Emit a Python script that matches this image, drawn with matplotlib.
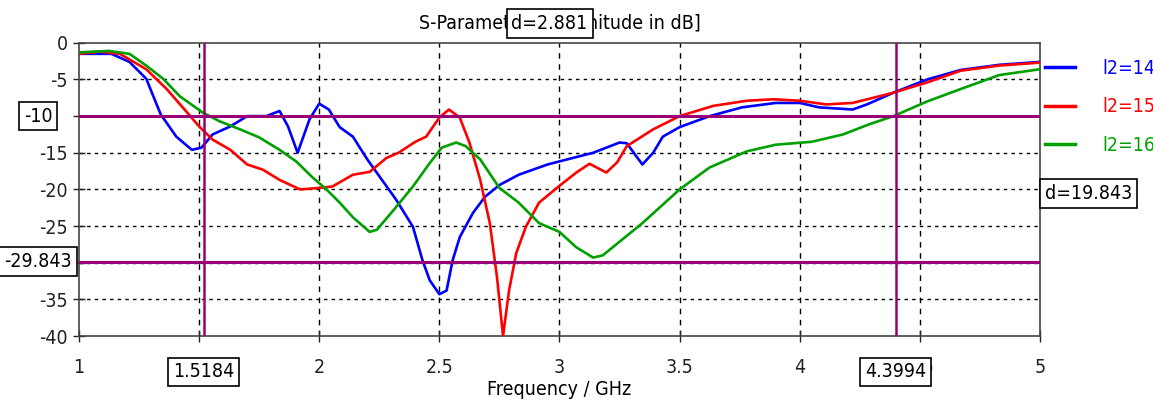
import matplotlib.pyplot as plt
import numpy as np

plt.rcParams['font.family'] = ['DejaVu Sans']
plt.rcParams['font.stretch'] = 'condensed'

# Daten
f_14 = [1.0, 1.135, 1.21, 1.28, 1.34, 1.405, 1.47, 1.51, 1.556, 1.63, 1.70, 1.78, 1.835,
        1.87, 1.91, 1.96, 2.0, 2.04, 2.085, 2.14, 2.2, 2.25, 2.32, 2.39, 2.43, 2.46, 2.50,
        2.53, 2.555, 2.585, 2.64, 2.69, 2.75, 2.83, 2.95, 3.08, 3.14, 3.25, 3.28, 3.345,
        3.39, 3.43, 3.5, 3.625, 3.76, 3.9, 4.0, 4.08, 4.22, 4.28, 4.39, 4.53, 4.67, 4.83, 5.0]
s_14 = [-1.5, -1.5, -2.6, -4.9, -9.75, -12.8, -14.6, -14.3, -12.5, -11.4, -10.0, -10.0, -9.3,
        -11.4, -15.0, -10.4, -8.3, -9.1, -11.5, -12.8, -15.9, -18.2, -21.4, -25.1, -29.7, -32.4, -34.3,
        -33.8, -29.7, -26.5, -23.2, -21.0, -19.4, -18.0, -16.6, -15.5, -15.0, -13.6, -13.7, -16.6,
        -15.0, -12.8, -11.5, -10.0, -8.8, -8.2, -8.2, -8.8, -9.1, -8.4, -6.8, -5.0, -3.7, -3.0, -2.6]

f_15 = [1.0, 1.085, 1.17, 1.28, 1.365, 1.45, 1.50, 1.556, 1.63, 1.70, 1.765, 1.835, 1.92, 2.0,
        2.055, 2.14, 2.21, 2.28, 2.33, 2.40, 2.445, 2.50, 2.54, 2.585, 2.625, 2.67, 2.71, 2.74,
        2.765, 2.79, 2.82, 2.86, 2.915, 3.0, 3.07, 3.125, 3.195, 3.24, 3.28, 3.39, 3.5, 3.64,
        3.78, 3.89, 4.0, 4.11, 4.22, 4.33, 4.39, 4.53, 4.67, 4.83, 5.0]
s_15 = [-1.5, -1.2, -1.5, -3.6, -6.3, -9.5, -11.4, -13.2, -14.6, -16.6, -17.3, -18.7, -20.0, -19.8,
        -19.6, -18.0, -17.6, -15.7, -15.0, -13.5, -12.8, -10.2, -9.1, -10.2, -13.6, -18.7, -24.6, -32.0,
        -40.0, -33.8, -28.7, -25.1, -21.8, -19.5, -17.7, -16.5, -17.7, -16.3, -14.1, -11.8, -10.0, -8.6,
        -7.9, -7.7, -7.9, -8.4, -8.2, -7.3, -6.8, -5.4, -3.8, -3.1, -2.7]

f_16 = [1.0, 1.125, 1.21, 1.28, 1.35, 1.42, 1.515, 1.585, 1.67, 1.75, 1.835, 1.905, 1.97, 2.03,
        2.085, 2.14, 2.21, 2.24, 2.31, 2.39, 2.46, 2.51, 2.57, 2.61, 2.67, 2.75, 2.83, 2.915, 3.0,
        3.07, 3.14, 3.18, 3.345, 3.5, 3.625, 3.78, 3.9, 4.05, 4.18, 4.29, 4.39, 4.53, 4.67, 4.83, 5.0]
s_16 = [-1.3, -1.1, -1.5, -3.1, -4.9, -7.3, -9.5, -10.7, -11.8, -12.9, -14.6, -16.2, -18.3, -20.0,
        -21.8, -23.8, -25.8, -25.5, -22.8, -19.6, -16.4, -14.3, -13.6, -14.1, -15.9, -19.8, -21.8, -24.6, -25.8,
        -27.9, -29.3, -29.0, -24.6, -20.0, -17.0, -14.8, -13.9, -13.5, -12.5, -11.1, -10.0, -8.0, -6.3, -4.4, -3.6]

serien = [("l2=14", f_14, s_14, "#0000ff"),
          ("l2=15", f_15, s_15, "#ff0000"),
          ("l2=16", f_16, s_16, "#00a000")]

x_ticks = [1, 1.5, 2, 2.5, 3, 3.5, 4, 4.5, 5]
y_ticks = [0, -5, -10, -15, -20, -25, -30, -35, -40]

# Marker
mx1, mx2 = 1.5184, 4.3994
my1, my2 = -10, -29.843
marker_farbe = "#990077"

fig = plt.figure(figsize=(11.53, 4.20), dpi=100)
ax = fig.add_axes([0.0685, 0.2, 0.8335, 0.698])

for name, f, s, c in serien:
    ax.plot(f, s, color=c, lw=1.9, label=name, zorder=3)

ax.axvline(mx1, color=marker_farbe, lw=1.8, zorder=4)
ax.axvline(mx2, color=marker_farbe, lw=1.8, zorder=4)
ax.axhline(my1, color=marker_farbe, lw=2.2, zorder=4)
ax.axhline(my2, color=marker_farbe, lw=2.2, zorder=4)

# Ticklabels, die von den Markerboxen verdeckt werden, weglassen
ax.set_xlim(1, 5)
ax.set_ylim(-40, 0)
ax.set_xticks(x_ticks)
ax.set_xticklabels(["" if t == 1.5 else f"{t:g}" for t in x_ticks])
ax.set_yticks(y_ticks)
ax.set_yticklabels(["" if t in (-10, -30) else f"{t:g}" for t in y_ticks])
ax.tick_params(direction='inout', length=8, labelsize=14, width=1, colors='#222222')
ax.tick_params(axis='x', pad=12)
ax.tick_params(axis='y', pad=4)

for x in x_ticks[1:-1]:
    ax.axvline(x, color='black', lw=1, ls=(0, (4, 4)), zorder=1)
for y in y_ticks[1:-1]:
    ax.axhline(y, color='black', lw=1, ls=(0, (2.5, 3)), zorder=1)

for sp in ax.spines.values():
    sp.set_color('#444444')
    sp.set_linewidth(1.2)

ax.set_title("S-Parameters [Magnitude in dB]", fontsize=14, pad=10)
ax.set_xlabel("Frequency / GHz", fontsize=14, labelpad=2)

box = dict(boxstyle='square,pad=0.25', fc='white', ec='black', lw=1.2)
kw = dict(fontsize=14, bbox=box, clip_on=False, zorder=10)
ax.text(mx1, -43.6, "1.5184", ha='center', va='top', **kw)
ax.text(mx2, -43.6, "4.3994", ha='center', va='top', **kw)
ax.text(0.89, my1, "-10", ha='right', va='center', **kw)
ax.text(0.97, my2, "-29.843", ha='right', va='center', **kw)
ax.text((mx1 + mx2) / 2, 2.6, f"d={mx2 - mx1:.3f}", ha='center', va='center', **kw)
ax.text(5.02, -20.6, f"d={my1 - my2:.3f}", ha='left', va='center', **kw)

leg = ax.legend(loc='upper left', bbox_to_anchor=(1.005, 0.945), frameon=False,
                fontsize=14, labelcolor='linecolor', handlelength=1.55,
                labelspacing=1.0, handletextpad=1.4, borderpad=0, borderaxespad=0)
for line in leg.get_lines():
    line.set_linewidth(2.5)

fig.savefig("out.png", dpi=100)
